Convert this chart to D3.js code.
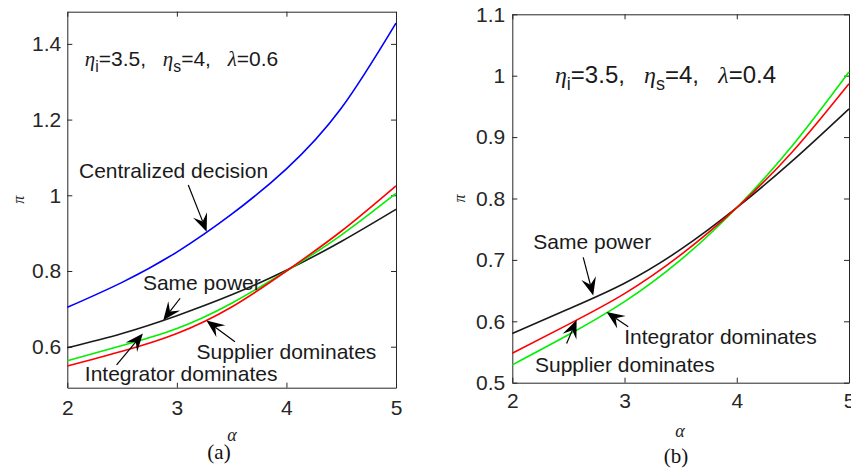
<!DOCTYPE html>
<html>
<head>
<meta charset="utf-8">
<script src="https://cdn.jsdelivr.net/npm/d3@7"></script>
<style>
  body { margin: 0; background: #fff; }
  svg { display: block; font-family: "Liberation Sans", Arial, sans-serif; }
  .tick-label { fill: #262626; font-size: 21px; }
  .note { fill: #1a1a1a; font-size: 21px; }
  .greek { font-family: "Liberation Serif", "Times New Roman", serif; font-style: italic; }
  .caption { font-family: "Liberation Serif", "Times New Roman", serif; font-size: 21px; fill: #111; }
</style>
</head>
<body>
<svg id="chart" width="851" height="468"></svg>
<script>
const alphaValues = [2, 2.5, 3, 3.5, 4, 4.5, 5];

// panel (a): eta_i=3.5, eta_s=4, lambda=0.6
const aCentralized = [0.704, 0.770, 0.850, 0.950, 1.070, 1.230, 1.455];
const aSamePower   = [0.597, 0.635, 0.682, 0.737, 0.802, 0.878, 0.963];
const aRed         = [0.549, 0.588, 0.635, 0.705, 0.800, 0.905, 1.025];
const aGreen       = [0.563, 0.603, 0.648, 0.715, 0.800, 0.895, 1.005];

// panel (b): eta_i=3.5, eta_s=4, lambda=0.4
const bSamePower   = [0.580, 0.620, 0.662, 0.717, 0.785, 0.862, 0.946];
const bRed         = [0.548, 0.595, 0.645, 0.708, 0.785, 0.877, 0.987];
const bGreen       = [0.529, 0.578, 0.632, 0.700, 0.785, 0.887, 1.006];

const xTicks  = [2, 3, 4, 5];
const aYTicks = [0.6, 0.8, 1, 1.2, 1.4];
const bYTicks = [0.5, 0.6, 0.7, 0.8, 0.9, 1, 1.1];

// annotations: label text, label anchor (alpha, pi), arrow tail -> tip (alpha, pi)
const aLabels = [
  {text: 'Centralized decision', at: [2.107, 1.045], from: [3.104, 1.027], to: [3.272, 0.904]},
  {text: 'Same power',           at: [2.690, 0.750], from: [3.030, 0.728], to: [2.876, 0.670]},
  {text: 'Supplier dominates',   at: [3.180, 0.567], from: [3.530, 0.613], to: [3.270, 0.669]},
  {text: 'Integrator dominates', at: [2.160, 0.509], from: [2.450, 0.552], to: [2.690, 0.635]}
];
const bLabels = [
  {text: 'Same power',           at: [2.187, 0.718], from: [2.632, 0.704], to: [2.721, 0.642]},
  {text: 'Integrator dominates', at: [2.997, 0.563], from: [3.033, 0.591], to: [2.840, 0.615]},
  {text: 'Supplier dominates',   at: [2.202, 0.518], from: [2.484, 0.564], to: [2.573, 0.602]}
];

const svg = d3.select('#chart');
svg.append('rect').attr('width', 851).attr('height', 468).attr('fill', '#fff');

// MATLAB-like annotation arrow with a notched head
function drawArrow(g, x1, y1, x2, y2) {
  const ang = Math.atan2(y2 - y1, x2 - x1);
  const len = 18, half = 7.5, notch = 11;
  const ux = Math.cos(ang), uy = Math.sin(ang);
  const px = -uy, py = ux;
  const bx = x2 - ux * len, by = y2 - uy * len;
  const nx = x2 - ux * notch, ny = y2 - uy * notch;
  g.append('line')
    .attr('x1', x1).attr('y1', y1).attr('x2', nx).attr('y2', ny)
    .attr('stroke', '#000').attr('stroke-width', 1.2);
  g.append('path')
    .attr('d', `M${x2},${y2}L${bx + px * half},${by + py * half}L${nx},${ny}L${bx - px * half},${by - py * half}Z`)
    .attr('fill', '#000');
}

function drawPanel(cfg) {
  const x = d3.scaleLinear().domain([2, 5]).range([cfg.left, cfg.right]);
  const y = d3.scaleLinear().domain(cfg.yDomain).range([cfg.bottom, cfg.top]);
  const g = svg.append('g');

  const styleAxis = sel => {
    sel.selectAll('path.domain').attr('stroke', '#262626').attr('stroke-width', 1);
    sel.selectAll('.tick line').attr('stroke', '#262626');
    sel.attr('font-size', null).attr('font-family', null);
    sel.selectAll('text').attr('class', 'tick-label').attr('fill', null);
  };

  g.append('g')
    .attr('transform', `translate(0,${cfg.bottom})`)
    .call(d3.axisBottom(x).tickValues(xTicks).tickSizeInner(-5).tickSizeOuter(0)
      .tickPadding(cfg.xPad).tickFormat(d3.format('d')))
    .call(styleAxis);
  g.append('g')
    .attr('transform', `translate(0,${cfg.top})`)
    .call(d3.axisTop(x).tickValues(xTicks).tickSizeInner(-5).tickSizeOuter(0).tickFormat(''))
    .call(styleAxis);
  g.append('g')
    .attr('transform', `translate(${cfg.left},0)`)
    .call(d3.axisLeft(y).tickValues(cfg.yTicks).tickSizeInner(-5).tickSizeOuter(0)
      .tickPadding(cfg.yPad).tickFormat(d3.format('.1~f')))
    .call(styleAxis);
  g.append('g')
    .attr('transform', `translate(${cfg.right},0)`)
    .call(d3.axisRight(y).tickValues(cfg.yTicks).tickSizeInner(-5).tickSizeOuter(0).tickFormat(''))
    .call(styleAxis);

  const line = d3.line()
    .x((d, i) => x(alphaValues[i]))
    .y(d => y(d))
    .curve(d3.curveNatural);

  cfg.series.forEach(s => {
    g.append('path')
      .attr('d', line(s.values))
      .attr('fill', 'none')
      .attr('stroke', s.color)
      .attr('stroke-width', 1.6);
  });

  // parameter note: η_i=3.5，η_s=4，λ=..
  const size = cfg.note.size;
  const note = g.append('text')
    .attr('class', 'note')
    .attr('x', x(cfg.note.at[0]))
    .attr('y', y(cfg.note.at[1]))
    .style('font-size', size + 'px');
  const gap = size * 0.8;
  note.append('tspan').attr('class', 'greek').text('η');
  note.append('tspan').attr('dy', size * 0.3).style('font-size', (size * 0.75) + 'px').text('i');
  note.append('tspan').attr('dy', -size * 0.3).text('=3.5,');
  note.append('tspan').attr('class', 'greek').attr('dx', gap).text('η');
  note.append('tspan').attr('dy', size * 0.3).style('font-size', (size * 0.75) + 'px').text('s');
  note.append('tspan').attr('dy', -size * 0.3).text('=4,');
  note.append('tspan').attr('class', 'greek').attr('dx', gap).text('λ');
  note.append('tspan').text('=' + cfg.note.lambda);

  cfg.labels.forEach(l => {
    g.append('text')
      .attr('class', 'note')
      .attr('x', x(l.at[0]))
      .attr('y', y(l.at[1]))
      .text(l.text);
    drawArrow(g, x(l.from[0]), y(l.from[1]), x(l.to[0]), y(l.to[1]));
  });

  // axis labels
  g.append('text')
    .attr('class', 'greek')
    .attr('transform', `translate(${cfg.piX},${(cfg.top + cfg.bottom) / 2}) rotate(-90)`)
    .attr('text-anchor', 'middle')
    .attr('fill', '#262626')
    .style('font-size', '16px')
    .text('π');
  g.append('text')
    .attr('class', 'greek')
    .attr('x', cfg.alphaPos[0])
    .attr('y', cfg.alphaPos[1])
    .attr('text-anchor', 'middle')
    .attr('fill', '#262626')
    .style('font-size', '18px')
    .text('α');
  g.append('text')
    .attr('class', 'caption')
    .attr('x', cfg.captionPos[0])
    .attr('y', cfg.captionPos[1])
    .attr('text-anchor', 'middle')
    .text(cfg.caption);
}

drawPanel({
  left: 67.3, right: 396, top: 11.7, bottom: 387.7,
  yDomain: [0.4917, 1.485], yTicks: aYTicks, xPad: 12, yPad: 6,
  series: [
    {values: aCentralized, color: '#0000ff'},
    {values: aSamePower, color: '#1a1a1a'},
    {values: aGreen, color: '#00f000'},
    {values: aRed, color: '#ff0000'}
  ],
  note: {at: [2.16, 1.342], size: 21, lambda: '0.6'},
  labels: aLabels,
  piX: 24, alphaPos: [232, 441], captionPos: [219, 459], caption: '(a)'
});

drawPanel({
  left: 512.3, right: 849, top: 14.3, bottom: 382.7,
  yDomain: [0.5, 1.1], yTicks: bYTicks, xPad: 10, yPad: 7,
  series: [
    {values: bSamePower, color: '#1a1a1a'},
    {values: bGreen, color: '#00f000'},
    {values: bRed, color: '#ff0000'}
  ],
  note: {at: [2.38, 0.988], size: 24, lambda: '0.4'},
  labels: bLabels,
  piX: 465, alphaPos: [680, 437], captionPos: [676, 463], caption: '(b)'
});
</script>
</body>
</html>
